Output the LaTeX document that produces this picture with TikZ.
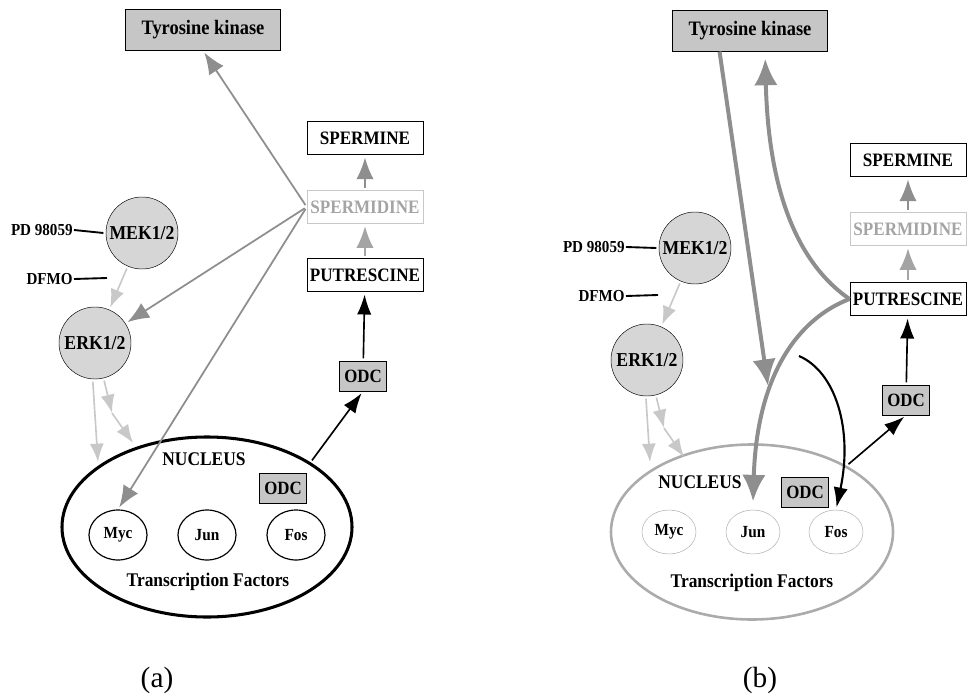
\documentclass[tikz,border=0pt]{standalone}
\usepackage{fontspec}
\setmainfont{Liberation Serif}[FakeStretch=0.9]
\newfontfamily\capfont{Liberation Serif}
\usetikzlibrary{shapes.geometric,arrows.meta,positioning}
\definecolor{boxgray}{HTML}{C6C6C6}
\definecolor{circgray}{HTML}{D6D6D6}
\definecolor{arrgray}{HTML}{8E8E8E}
\definecolor{palegray}{HTML}{C8C8C8}
\definecolor{midgray}{HTML}{A4A4A4}
\definecolor{nucgray}{HTML}{ABABAB}

\begin{document}
\begin{tikzpicture}[
    x=0.03cm,y=-0.03cm,
    >=Latex,
    kinase/.style={draw,fill=boxgray,minimum width=4.65cm,minimum height=1.22cm,font=\bfseries\fontsize{17.5}{19}\selectfont},
    poly/.style={draw,thick,minimum width=3.48cm,minimum height=1cm,inner sep=0pt,font=\bfseries\fontsize{16.2}{18}\selectfont},
    odc/.style={draw,fill=boxgray,minimum width=1.41cm,minimum height=0.9cm,inner sep=0pt,font=\bfseries\fontsize{16}{18}\selectfont},
    kin/.style={circle,draw,fill=circgray,minimum size=2.16cm,inner sep=0pt,font=\bfseries\fontsize{16.8}{18}\selectfont},
    inhib/.style={anchor=east,inner sep=1pt,font=\bfseries\fontsize{14.3}{16}\selectfont},
    lbl/.style={font=\bfseries\fontsize{16.5}{18}\selectfont},
    tf/.style={ellipse,draw,line width=1pt,minimum width=1.74cm,minimum height=1.5cm,inner sep=0pt,font=\bfseries\fontsize{14.5}{16}\selectfont},
    graylink/.style={->,arrgray,line width=1.5pt,shorten <=2pt,shorten >=2pt,>={Latex[length=6.5mm,width=5.2mm]}},
    palelink/.style={->,palegray,line width=1.4pt,shorten <=2pt,>={Latex[length=5.5mm,width=4.2mm]}},
    blacklink/.style={->,line width=1.4pt,shorten <=2pt,shorten >=2pt,>={Latex[length=6mm,width=4.3mm]}},
    biglink/.style={->,arrgray,line width=3.4pt,>={Latex[length=8mm,width=7mm]}},
    panelcap/.style={font=\capfont\fontsize{25}{28}\selectfont},
]
    \useasboundingbox (0,0) rectangle (968,700);

    % (a)
    \node[kinase] (tkA) at (203,30) {Tyrosine kinase};
    \node[poly] (spmA) at (365,138) {SPERMINE};
    \node[poly,thin,draw=palegray,text=midgray] (spdA) at (365,207) {SPERMIDINE};
    \node[poly] (putA) at (365,275) {PUTRESCINE};
    \node[odc] (odcA) at (363,376) {ODC};
    \node[kin] (mekA) at (142,233) {MEK1/2};
    \node[kin] (erkA) at (95,343) {ERK1/2};
    \node[inhib] (pdA) at (74,230) {PD 98059};
    \node[inhib] (dfmoA) at (74,279) {DFMO};
    \coordinate (dfmoEndA) at (107,278);

    \node[ellipse,draw,line width=2.6pt,minimum width=8.7cm,minimum height=5.4cm] (nucA) at (207,527) {};
    \node[lbl] (nuclabA) at (204,459) {NUCLEUS};
    \node[odc] (odcinA) at (283,488) {ODC};
    \node[tf] (mycA) at (118,535) {Myc};
    \node[tf] (junA) at (207,535) {Jun};
    \node[tf] (fosA) at (296,535) {Fos};
    \node[lbl] (tfA) at (208,582) {Transcription Factors};

    \draw[line width=1.6pt] (pdA.east) -- ([xshift=-2pt]mekA.west);
    \draw[line width=1.6pt] (dfmoA.east) -- (dfmoEndA);
    \draw[palelink,shorten >=2pt] (mekA) -- (erkA);
    \coordinate (erkInA) at (98,462);
    \coordinate (erkMidA) at (112,413);
    \coordinate (erkEndA) at (133,443);
    \draw[palelink] ([xshift=-2pt]erkA.south) -- (erkInA);
    \draw[palelink] (erkA) -- (erkMidA);
    \draw[palelink,shorten <=0pt] (erkMidA) -- (erkEndA);

    \draw[graylink] (spdA.west) -- (tkA.south);
    \draw[graylink] (spdA.west) -- (erkA);
    \draw[graylink] (spdA.west) -- (mycA.north);
    \draw[graylink] (spdA) -- (spmA);
    \draw[graylink,midgray] (putA) -- (spdA);
    \draw[blacklink] (odcA) -- (putA);
    \draw[blacklink] (nucA.32) -- (odcA.south);

    \node[panelcap] (capA) at (157,680) {(a)};

    % (b)
    \node[kinase] (tkB) at (750,31) {Tyrosine kinase};
    \node[poly] (spmB) at (908,160) {SPERMINE};
    \node[poly,thin,draw=palegray,text=midgray] (spdB) at (908,229) {SPERMIDINE};
    \node[poly] (putB) at (908,299) {PUTRESCINE};
    \node[odc] (odcB) at (906,400) {ODC};
    \node[kin] (mekB) at (695,248) {MEK1/2};
    \node[kin] (erkB) at (647,360) {ERK1/2};
    \node[inhib] (pdB) at (626,247) {PD 98059};
    \node[inhib] (dfmoB) at (626,296) {DFMO};
    \coordinate (dfmoEndB) at (658,295);

    \node[ellipse,draw=nucgray,line width=2.2pt,minimum width=8.46cm,minimum height=5.25cm] (nucB) at (752,532) {};
    \node[lbl] (nuclabB) at (700,482) {NUCLEUS};
    \node[odc] (odcinB) at (805,492) {ODC};
    \node[tf,thin,draw=nucgray,minimum width=1.62cm,minimum height=1.32cm] (mycB) at (669,532) {Myc};
    \node[tf,thin,draw=nucgray,minimum width=1.62cm,minimum height=1.32cm] (junB) at (753,532) {Jun};
    \node[tf,thin,draw=nucgray,minimum width=1.62cm,minimum height=1.32cm] (fosB) at (836,532) {Fos};
    \node[lbl] (tfB) at (752,583) {Transcription Factors};

    \draw[line width=1.6pt] (pdB.east) -- ([xshift=-2pt]mekB.west);
    \draw[line width=1.6pt] (dfmoB.east) -- (dfmoEndB);
    \draw[palelink,shorten >=2pt] (mekB) -- (erkB);
    \coordinate (erkInB) at (650,462);
    \coordinate (erkMidB) at (664,428);
    \coordinate (erkEndB) at (684,457);
    \draw[palelink] ([xshift=-1pt]erkB.south) -- (erkInB);
    \draw[palelink] (erkB) -- (erkMidB);
    \draw[palelink,shorten <=0pt] (erkMidB) -- (erkEndB);

    \draw[graylink] (spdB) -- (spmB);
    \draw[graylink,midgray] (putB) -- (spdB);
    \draw[blacklink] (odcB) -- (putB);
    \draw[blacklink] (nucB.35) -- (odcB.south);

    \coordinate (tkDownB) at (768,386);
    \draw[biglink] ([xshift=-26pt]tkB.south) -- (tkDownB);
    \draw[biglink] (putB.west) .. controls (790,258) and (768,175) .. ([xshift=13pt,yshift=-6pt]tkB.south);
    \draw[biglink] (putB.west) .. controls (800,318) and (757,372) .. ([yshift=7pt]junB.north);
    \coordinate (branchB) at (799,356);
    \draw[blacklink,line width=1.8pt,shorten <=0pt] (branchB) .. controls (836,372) and (853,430) .. (fosB.north);

    \node[panelcap] (capB) at (760,680) {(b)};
\end{tikzpicture}
\end{document}
